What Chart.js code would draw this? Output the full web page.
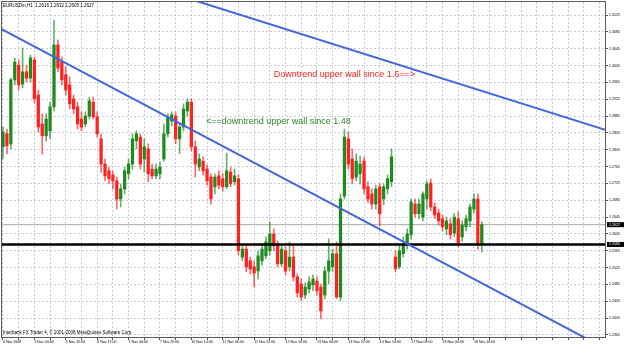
<!DOCTYPE html>
<html>
<head>
<meta charset="utf-8">
<script src="https://cdn.jsdelivr.net/npm/chart.js@4.4.0/dist/chart.umd.min.js"></script>
<style>
  html, body { margin: 0; padding: 0; background: #fff; }
  #wrap { width: 625px; height: 346px; }
</style>
</head>
<body>
<div id="wrap"><canvas id="priceChart" width="625" height="346"></canvas></div>
<script>
// EURUSDm candles (two H1 bars per candle)
var opens = [
  1.2812, 1.2843, 1.2819, 1.2971, 1.3006, 1.2961, 1.2990, 1.2975, 1.3018, 1.2935,
  1.2866, 1.2838, 1.2850, 1.2907, 1.3054, 1.3013, 1.2983, 1.2959, 1.2926, 1.2907,
  1.2878, 1.2866, 1.2885, 1.2918, 1.2883, 1.2831, 1.2771, 1.2755, 1.2745, 1.2731,
  1.2688, 1.2712, 1.2748, 1.2771, 1.2826, 1.2835, 1.2783, 1.2807, 1.2759, 1.2743,
  1.2748, 1.2783, 1.2843, 1.2873, 1.2885, 1.2831, 1.2859, 1.2897, 1.2918, 1.2812,
  1.2764, 1.2778, 1.2759, 1.2740, 1.2717, 1.2743, 1.2736, 1.2717, 1.2752, 1.2729,
  1.2736, 1.2550, 1.2569, 1.2541, 1.2527, 1.2517, 1.2541, 1.2553, 1.2565, 1.2605,
  1.2581, 1.2534, 1.2565, 1.2527, 1.2550, 1.2503, 1.2486, 1.2460, 1.2474, 1.2484,
  1.2493, 1.2479, 1.2460, 1.2517, 1.2527, 1.2558, 1.2455, 1.2695, 1.2831, 1.2783,
  1.2740, 1.2748, 1.2778, 1.2717, 1.2700, 1.2676, 1.2717, 1.2688, 1.2712, 1.2729,
  1.2550, 1.2527, 1.2558, 1.2581, 1.2603, 1.2676, 1.2653, 1.2645, 1.2688, 1.2726,
  1.2669, 1.2655, 1.2641, 1.2617, 1.2629, 1.2607, 1.2641, 1.2598, 1.2622, 1.2636,
  1.2664, 1.2688, 1.2579
];
var highs = [
  1.2859, 1.2854, 1.2975, 1.3023, 1.3018, 1.3047, 1.3006, 1.3030, 1.3025, 1.2947,
  1.2890, 1.2890, 1.2918, 1.3113, 1.3066, 1.3025, 1.3002, 1.2978, 1.2935, 1.2918,
  1.2895, 1.2895, 1.2930, 1.2930, 1.2895, 1.2843, 1.2783, 1.2764, 1.2755, 1.2740,
  1.2724, 1.2764, 1.2783, 1.2843, 1.2850, 1.2843, 1.2831, 1.2819, 1.2771, 1.2771,
  1.2776, 1.2866, 1.2890, 1.2895, 1.2895, 1.2866, 1.2914, 1.2926, 1.2926, 1.2826,
  1.2795, 1.2788, 1.2769, 1.2748, 1.2748, 1.2755, 1.2748, 1.2797, 1.2764, 1.2759,
  1.2745, 1.2581, 1.2579, 1.2550, 1.2541, 1.2565, 1.2581, 1.2598, 1.2634, 1.2617,
  1.2588, 1.2579, 1.2574, 1.2586, 1.2577, 1.2510, 1.2498, 1.2489, 1.2503, 1.2508,
  1.2503, 1.2486, 1.2527, 1.2593, 1.2569, 1.2586, 1.2700, 1.2854, 1.2847, 1.2807,
  1.2795, 1.2790, 1.2788, 1.2729, 1.2712, 1.2721, 1.2724, 1.2724, 1.2745, 1.2807,
  1.2565, 1.2581, 1.2598, 1.2617, 1.2688, 1.2688, 1.2688, 1.2705, 1.2731, 1.2736,
  1.2679, 1.2664, 1.2650, 1.2645, 1.2641, 1.2653, 1.2657, 1.2636, 1.2650, 1.2676,
  1.2700, 1.2700, 1.2634
];
var lows = [
  1.2783, 1.2795, 1.2807, 1.2959, 1.2947, 1.2952, 1.2966, 1.2966, 1.2916, 1.2847,
  1.2795, 1.2826, 1.2831, 1.2897, 1.2990, 1.2959, 1.2935, 1.2902, 1.2890, 1.2854,
  1.2850, 1.2859, 1.2878, 1.2878, 1.2835, 1.2752, 1.2731, 1.2724, 1.2712, 1.2664,
  1.2669, 1.2700, 1.2736, 1.2759, 1.2807, 1.2759, 1.2752, 1.2729, 1.2736, 1.2736,
  1.2736, 1.2778, 1.2835, 1.2862, 1.2819, 1.2795, 1.2850, 1.2885, 1.2802, 1.2740,
  1.2755, 1.2745, 1.2721, 1.2676, 1.2700, 1.2712, 1.2707, 1.2712, 1.2717, 1.2721,
  1.2555, 1.2541, 1.2515, 1.2510, 1.2479, 1.2498, 1.2531, 1.2546, 1.2555, 1.2565,
  1.2527, 1.2527, 1.2508, 1.2517, 1.2493, 1.2455, 1.2446, 1.2451, 1.2465, 1.2470,
  1.2460, 1.2403, 1.2451, 1.2486, 1.2517, 1.2451, 1.2446, 1.2688, 1.2759, 1.2724,
  1.2731, 1.2724, 1.2700, 1.2679, 1.2664, 1.2664, 1.2624, 1.2674, 1.2700, 1.2717,
  1.2515, 1.2522, 1.2550, 1.2569, 1.2593, 1.2645, 1.2641, 1.2636, 1.2664, 1.2660,
  1.2641, 1.2626, 1.2612, 1.2603, 1.2593, 1.2598, 1.2574, 1.2588, 1.2612, 1.2622,
  1.2655, 1.2569, 1.2562
];
var closes = [
  1.2847, 1.2814, 1.2971, 1.3013, 1.2959, 1.2990, 1.2975, 1.3023, 1.2926, 1.2859,
  1.2838, 1.2878, 1.2907, 1.3054, 1.2999, 1.2971, 1.2947, 1.2914, 1.2902, 1.2866,
  1.2859, 1.2885, 1.2921, 1.2883, 1.2843, 1.2771, 1.2743, 1.2736, 1.2731, 1.2688,
  1.2712, 1.2755, 1.2771, 1.2831, 1.2843, 1.2771, 1.2812, 1.2748, 1.2743, 1.2759,
  1.2764, 1.2843, 1.2883, 1.2888, 1.2831, 1.2859, 1.2902, 1.2918, 1.2812, 1.2771,
  1.2783, 1.2755, 1.2731, 1.2688, 1.2740, 1.2721, 1.2717, 1.2755, 1.2724, 1.2743,
  1.2565, 1.2569, 1.2527, 1.2522, 1.2512, 1.2553, 1.2569, 1.2586, 1.2605, 1.2577,
  1.2534, 1.2569, 1.2517, 1.2550, 1.2503, 1.2465, 1.2455, 1.2479, 1.2491, 1.2498,
  1.2470, 1.2422, 1.2517, 1.2541, 1.2558, 1.2455, 1.2688, 1.2835, 1.2771, 1.2736,
  1.2778, 1.2771, 1.2712, 1.2688, 1.2676, 1.2712, 1.2653, 1.2717, 1.2736, 1.2788,
  1.2522, 1.2565, 1.2581, 1.2605, 1.2681, 1.2653, 1.2676, 1.2700, 1.2724, 1.2669,
  1.2650, 1.2636, 1.2622, 1.2636, 1.2603, 1.2645, 1.2584, 1.2626, 1.2641, 1.2669,
  1.2688, 1.2579, 1.2627
];

// one label every 8 candles
var timeLabels = [
  '4 Nov 2008', '5 Nov 04:00', '5 Nov 20:00', '6 Nov 12:00', '7 Nov 04:00',
  '7 Nov 20:00', '10 Nov 14:00', '11 Nov 06:00', '11 Nov 22:00', '12 Nov 14:00',
  '13 Nov 06:00', '13 Nov 22:00', '14 Nov 14:00', '17 Nov 08:00', '18 Nov 00:00',
  '18 Nov 16:00'
];
var priceTicks = [
  1.2365, 1.2405, 1.2445, 1.2485, 1.2525, 1.2565, 1.2605, 1.2645, 1.2685, 1.2725,
  1.2765, 1.2805, 1.2845, 1.2885, 1.2925, 1.2965, 1.3005, 1.3045, 1.3085, 1.3125
];

// trend lines (candle index, price)
var wallSince16 = [{x: 40, y: 1.31855}, {x: 160, y: 1.28331}];
var wallSince148 = [{x: -1, y: 1.30945}, {x: 160, y: 1.23007}];
var supportLevel = 1.2580;
var bidPrice = 1.2627;

var title = 'EURUSDm,H1  1.2616 1.2632 1.2605 1.2627';
var copyright = 'Interbank FX Trader 4, \u00a9 2001-2008 MetaQuotes Software Corp.';
var notes = [
  {text: 'Downtrend upper wall since 1.6==>', x: 69.0, y: 1.2983, color: '#f01e1e'},
  {text: '<==downtrend upper wall since 1.48', x: 51.7, y: 1.2873, color: '#2b852b'}
];

var idx = opens.map(function (o, i) { return i; });
var up = idx.map(function (i) { return closes[i] >= opens[i]; });

var chartText = {
  id: 'chartText',
  afterDraw: function (chart) {
    var ctx = chart.ctx, a = chart.chartArea;
    var xs = chart.scales.x, ys = chart.scales.y;
    ctx.save();
    ctx.strokeStyle = '#5a5a5a';
    ctx.lineWidth = 1;
    ctx.strokeRect(a.left - 0.5, a.top - 0.5, a.right - a.left + 1, a.bottom - a.top + 1);

    ctx.textBaseline = 'middle';
    ctx.textAlign = 'left';
    ctx.fillStyle = '#000';
    ctx.font = '4.5px "Liberation Sans"';
    ctx.fillText(title, a.left + 1, a.top + 4);
    ctx.fillText(copyright, a.left + 1, a.bottom - 4);

    ctx.font = '9px "Liberation Sans"';
    notes.forEach(function (n) {
      ctx.fillStyle = n.color;
      ctx.fillText(n.text, xs.getPixelForValue(n.x), ys.getPixelForValue(n.y));
    });

    ctx.font = '3.6px "Liberation Sans"';
    [bidPrice, supportLevel].forEach(function (p) {
      var py = ys.getPixelForValue(p);
      ctx.fillStyle = '#000';
      ctx.fillRect(a.right + 2, py - 2.5, 17, 5);
      ctx.fillStyle = '#fff';
      ctx.fillText(p.toFixed(4), a.right + 4, py);
    });
    ctx.restore();
  }
};

var gridColor = 'rgba(160,166,188,0.6)';

new Chart(document.getElementById('priceChart'), {
  data: {
    datasets: [
      {
        type: 'line', order: 0, data: wallSince16,
        borderColor: '#4066e0', borderWidth: 2, pointRadius: 0
      },
      {
        type: 'line', order: 0, data: wallSince148,
        borderColor: '#4066e0', borderWidth: 2, pointRadius: 0
      },
      {
        type: 'line', order: 0,
        data: [{x: -1, y: supportLevel}, {x: 160, y: supportLevel}],
        borderColor: '#000', borderWidth: 2.5, pointRadius: 0
      },
      {
        type: 'bar', order: 1, grouped: false,
        data: idx.map(function (i) { return {x: i, y: [opens[i], closes[i]]}; }),
        backgroundColor: up.map(function (u) { return u ? '#1f8a1f' : '#ff2020'; }),
        barThickness: 2.6, borderWidth: 0, borderSkipped: false
      },
      {
        type: 'bar', order: 2, grouped: false,
        data: idx.map(function (i) { return {x: i, y: [lows[i], highs[i]]}; }),
        backgroundColor: up.map(function (u) { return u ? 'rgba(40,140,40,0.7)' : 'rgba(255,40,40,0.7)'; }),
        barThickness: 1, borderWidth: 0, borderSkipped: false
      },
      {
        type: 'line', order: 3,
        data: [{x: -1, y: bidPrice}, {x: 160, y: bidPrice}],
        borderColor: '#a8a8a8', borderWidth: 1, pointRadius: 0
      }
    ]
  },
  options: {
    responsive: false,
    animation: false,
    layout: {padding: {top: 2, left: 2, right: 0, bottom: 0}},
    plugins: {legend: {display: false}, tooltip: {enabled: false}},
    scales: {
      x: {
        type: 'linear', min: -0.25, max: 153.4, offset: false,
        afterBuildTicks: function (axis) {
          var t = [];
          for (var v = 0; v <= 152; v += 4) t.push({value: v});
          axis.ticks = t;
        },
        afterFit: function (axis) {
          axis.height = 9;
          axis.paddingLeft = 0;
          axis.paddingRight = 0;
        },
        ticks: {
          autoSkip: false, maxRotation: 0, align: 'start', padding: 0,
          color: '#000', font: {family: 'Liberation Sans', size: 3.6},
          callback: function (v) { return v % 8 === 0 && timeLabels[v / 8] ? timeLabels[v / 8] : ''; }
        },
        grid: {offset: false, color: gridColor, tickColor: '#555', tickLength: 3},
        border: {display: true, color: '#5a5a5a', dash: [2, 2]}
      },
      y: {
        type: 'linear', position: 'right', min: 1.23602, max: 1.31559,
        afterBuildTicks: function (axis) {
          axis.ticks = priceTicks.map(function (p) { return {value: p}; });
        },
        afterFit: function (axis) {
          axis.width = 20;
          axis.paddingTop = 0;
          axis.paddingBottom = 0;
        },
        ticks: {
          autoSkip: false, padding: 1, color: '#000',
          font: {family: 'Liberation Sans', size: 3.6},
          callback: function (v) { return v.toFixed(4); }
        },
        grid: {color: gridColor, tickColor: '#555', tickLength: 3},
        border: {display: true, color: '#5a5a5a', dash: [2, 2]}
      }
    }
  },
  plugins: [chartText]
});
</script>
</body>
</html>
